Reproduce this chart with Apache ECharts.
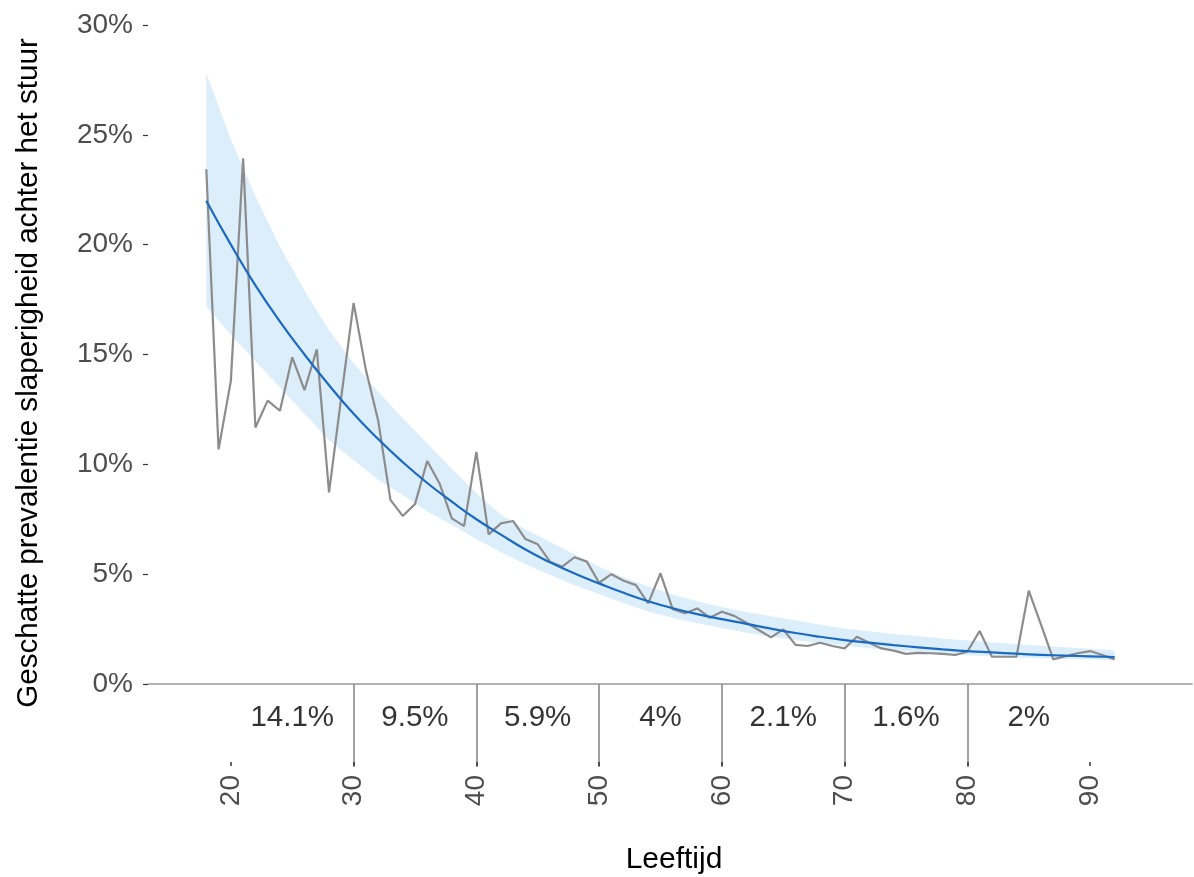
<!DOCTYPE html>
<html><head><meta charset="utf-8">
<script src="https://cdn.jsdelivr.net/npm/echarts@6/dist/echarts.min.js"></script>
<style>html,body{margin:0;padding:0;background:#fff}#c{width:1194px;height:877px}</style>
</head><body><div id="c"></div>
<script>
// ---- data ----
const ages = [18,19,20,21,22,23,24,25,26,27,28,29,30,31,32,33,34,35,36,37,38,39,40,41,42,43,44,45,46,47,48,49,50,51,52,53,54,55,56,57,58,59,60,61,62,63,64,65,66,67,68,69,70,71,72,73,74,75,76,77,78,79,80,81,82,83,84,85,86,87,88,89,90,91,92];
const observed = [23.43,10.68,13.8,23.93,11.68,12.9,12.44,14.87,13.38,15.23,8.72,13.08,17.35,14.3,12.0,8.38,7.65,8.19,10.15,9.13,7.54,7.19,10.57,6.81,7.31,7.42,6.6,6.36,5.57,5.34,5.77,5.57,4.61,5.0,4.7,4.5,3.67,5.04,3.4,3.22,3.44,3.02,3.29,3.1,2.79,2.46,2.12,2.49,1.78,1.73,1.88,1.73,1.62,2.15,1.88,1.62,1.52,1.37,1.42,1.4,1.37,1.32,1.47,2.41,1.24,1.24,1.24,4.25,2.7,1.12,1.27,1.4,1.5,1.32,1.12];
const fitAges = [18,20,22,24,26,28,30,32,34,36,38,40,42,44,46,48,50,52,54,56,58,60,62,64,66,68,70,72,74,76,78,80,82,84,86,88,90,92];
const fitValues = [22.0,20.0,18.15,16.5,15.0,13.6,12.3,11.15,10.1,9.15,8.3,7.5,6.8,6.12,5.54,5.03,4.58,4.15,3.77,3.45,3.18,2.95,2.74,2.52,2.32,2.15,2.0,1.88,1.77,1.67,1.58,1.5,1.44,1.38,1.33,1.29,1.26,1.23];
const upperValues = [27.8,24.8,22.2,19.9,17.9,16.1,14.6,13.3,12.1,10.95,9.8,8.7,7.7,7.05,6.48,5.9,5.34,4.85,4.45,4.08,3.77,3.5,3.28,3.08,2.9,2.7,2.53,2.4,2.28,2.17,2.07,1.98,1.9,1.82,1.74,1.67,1.6,1.52];
const lowerValues = [17.2,15.9,14.7,13.5,12.3,11.1,10.2,9.3,8.6,7.85,7.25,6.6,6.0,5.45,4.96,4.5,4.1,3.68,3.3,3.0,2.77,2.55,2.33,2.15,2.0,1.86,1.74,1.63,1.53,1.45,1.38,1.31,1.26,1.21,1.17,1.14,1.11,1.08];
const xTicks = [20,30,40,50,60,70,80,90];
const separators = [30,40,50,60,70,80];
const groupAges = [25,35,45,55,65,75,85];
const groupLabels = ['14.1%','9.5%','5.9%','4%','2.1%','1.6%','2%'];
const yTitle = 'Geschatte prevalentie slaperigheid achter het stuur';
const xTitle = 'Leeftijd';

// ---- layout ----
const FONT = '"Liberation Sans", Arial, sans-serif';
const X_MIN = 13.25, X_MAX = 98.3;
const LABEL_Y = -1.55;

const zip = (xs, ys) => xs.map((x, i) => [x, ys[i]]);

function renderBand(params, api) {
  if (params.dataIndex !== 0) return null;
  const pts = [];
  for (let i = 0; i < fitAges.length; i++) pts.push(api.coord([fitAges[i], upperValues[i]]));
  for (let i = fitAges.length - 1; i >= 0; i--) pts.push(api.coord([fitAges[i], lowerValues[i]]));
  return {type: 'polygon', shape: {points: pts}, style: {fill: '#ddeefb', stroke: null}, silent: true};
}

const noTick = {show: false};
const chart = echarts.init(document.getElementById('c'), null, {renderer: 'canvas'});
chart.setOption({
  animation: false,
  backgroundColor: '#fff',
  grid: {left: 148, right: 2, top: 25, bottom: 193, outerBoundsMode: 'none'},
  xAxis: [
    // tick labels (rotated)
    {type: 'value', position: 'bottom', min: X_MIN, max: X_MAX, offset: 78,
     axisLine: {show: false}, splitLine: {show: false}, axisTick: noTick,
     axisLabel: {customValues: xTicks, rotate: 90, margin: 13, fontSize: 28, color: '#4d4d4d', fontFamily: FONT}},
    // decade separators
    {type: 'value', position: 'bottom', min: X_MIN, max: X_MAX, offset: 83,
     axisLine: {show: false}, splitLine: {show: false}, axisLabel: {show: false},
     axisTick: {show: true, inside: true, length: 83, customValues: separators, lineStyle: {color: '#8a8a8a', width: 1.6}}},
    // short ticks above tick labels
    {type: 'value', position: 'bottom', min: X_MIN, max: X_MAX, offset: 82,
     axisLine: {show: false}, splitLine: {show: false}, axisLabel: {show: false},
     axisTick: {show: true, inside: true, length: 4, customValues: xTicks, lineStyle: {color: '#333', width: 1.5}}},
    // horizontal line at 0%
    {type: 'value', position: 'bottom', min: X_MIN, max: X_MAX, offset: 0,
     axisLine: {show: true, onZero: false, lineStyle: {color: '#999', width: 1.6}},
     axisTick: noTick, axisLabel: {show: false}, splitLine: {show: false}}
  ],
  yAxis: {type: 'value', min: 0, max: 30, interval: 5,
    axisLine: {show: false}, splitLine: {show: false},
    axisTick: {show: true, length: 5, lineStyle: {color: '#333', width: 1.2}},
    axisLabel: {formatter: '{value}%', margin: 15, fontSize: 28, color: '#4d4d4d', fontFamily: FONT}},
  series: [
    {type: 'custom', name: 'band', xAxisIndex: 0, data: [[fitAges[0], fitValues[0]]], renderItem: renderBand, silent: true, z: 1},
    {type: 'line', name: 'observed', xAxisIndex: 0, data: zip(ages, observed), symbol: 'none',
     lineStyle: {color: '#8c8c8c', width: 2.2}, z: 3},
    {type: 'line', name: 'fit', xAxisIndex: 0, data: zip(fitAges, fitValues), smooth: true, symbol: 'none',
     lineStyle: {color: '#1a6ac2', width: 2.2}, z: 4},
    {type: 'scatter', name: 'groups', xAxisIndex: 0, clip: false, symbolSize: 0,
     data: groupAges.map(a => [a, LABEL_Y]),
     itemStyle: {color: 'transparent'},
     label: {show: true, position: 'inside', formatter: p => groupLabels[p.dataIndex],
       fontSize: 29.5, color: '#000', fontFamily: FONT}, z: 5}
  ],
  graphic: [
    {type: 'text', x: 29, y: 373, rotation: Math.PI / 2,
     style: {text: yTitle, font: '29.6px ' + FONT, fill: '#000', align: 'center', verticalAlign: 'middle'}},
    {type: 'text', x: 674, y: 860,
     style: {text: xTitle, font: '30px ' + FONT, fill: '#000', align: 'center', verticalAlign: 'middle'}}
  ]
});
</script>
</body></html>
